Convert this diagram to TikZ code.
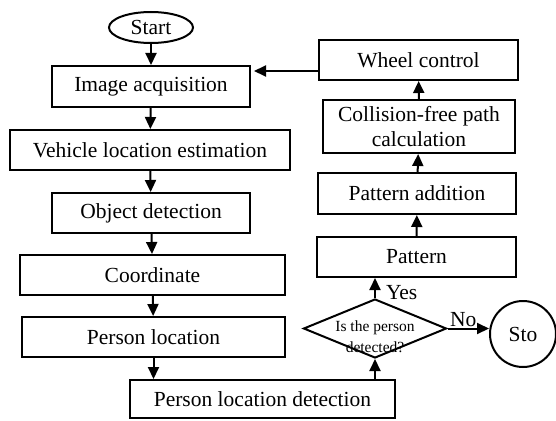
\documentclass[tikz,border=0pt]{standalone}
\usepackage{fontspec}
\setmainfont{Liberation Serif}
\usetikzlibrary{arrows.meta,shapes.geometric}
\begin{document}
\begin{tikzpicture}[x=1pt,y=-1pt,
  every node/.style={font=\fontsize{21.5}{25}\selectfont},
  box/.style={draw, line width=2pt, inner sep=0pt, align=center},
  flow/.style={line width=2pt, -{Triangle[length=12pt,width=11pt]}},
  qtext/.style={font=\fontsize{15.5}{21}\selectfont, align=center, inner sep=0pt},
  lbl/.style={inner sep=1pt},
]
\useasboundingbox (0,0) rectangle (556,420);

% left column
\node[box, ellipse, minimum width=84pt, minimum height=31pt] (start) at (151,27.5) {Start};
\node[box, minimum width=198pt, minimum height=41pt] (img) at (151,86.5) {Image acquisition};
\node[box, minimum width=280pt, minimum height=40pt] (veh) at (150,150) {Vehicle location estimation};
\node[box, minimum width=198pt, minimum height=40pt] (obj) at (151,213) {Object detection};
\node[box, minimum width=265pt, minimum height=40pt] (coord) at (152.5,275) {Coordinate};
\node[box, minimum width=263pt, minimum height=40pt] (pers) at (153.5,337) {Person location};
\node[box, minimum width=265pt, minimum height=38pt] (pld) at (262.5,399) {Person location detection};

% decision and stop
\node[box, diamond, minimum width=143pt, minimum height=59pt] (dia) at (375,328.5) {};
\node[qtext] (diatext) at ([yshift=-8pt]dia.center) {Is the person\\detected?};
\node[box, circle, minimum size=66pt] (sto) at (523,334) {Sto};

% right column
\node[box, minimum width=199pt, minimum height=40pt] (pat) at (416.5,257) {Pattern};
\node[box, minimum width=198pt, minimum height=41pt] (padd) at (417,193.5) {Pattern addition};
\node[box, minimum width=192pt, minimum height=53pt] (coll) at (419,126.5) {Collision-free path\\calculation};
\node[box, minimum width=199pt, minimum height=40pt] (wheel) at (418.5,60) {Wheel control};

% connectors
\draw[flow] (start) -- (img);
\draw[flow] (img) -- (veh);
\draw[flow] (veh) -- (obj);
\draw[flow] (obj) -- (coord);
\draw[flow] (coord) -- (pers);
\draw[flow] (pers.south) -- (pers.south |- pld.north);
\draw[flow] (pld.north -| dia.south) -- (dia.south);
\draw[flow] (dia.north) -- node[pos=0.28, right, lbl, xshift=9pt] {Yes} (dia.north |- pat.south);
\draw[flow] (dia.east) -- node[pos=0.38, above, lbl] {No} (dia.east -| sto.west);
\draw[flow] (pat) -- (padd);
\draw[flow] (padd) -- (coll);
\draw[flow] (coll) -- (wheel);
\draw[flow] ([yshift=-11pt]wheel.west) -- ([yshift=-11pt,xshift=3pt]wheel.west -| img.east);
\end{tikzpicture}
\end{document}
